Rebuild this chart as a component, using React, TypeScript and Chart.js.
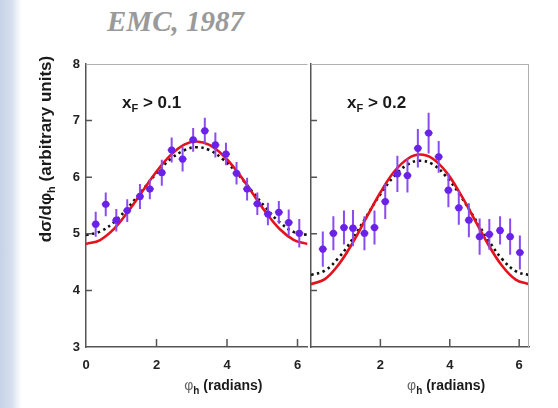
import React, { useEffect, useRef } from "react";
import { Chart, registerables } from "chart.js";
Chart.register(...registerables);

const PHI_MAX = 6.2832;
const xTickValues = [0, 2, 4, 6];
const yTickValues = [3, 4, 5, 6, 7, 8];
const yInnerTicks = [4, 5, 6, 7];

// xF > 0.1 data
const phiLow = [0.275, 0.56, 0.86, 1.17, 1.53, 1.81, 2.15, 2.43, 2.74, 3.04, 3.37, 3.67, 3.97, 4.27, 4.57, 4.86, 5.16, 5.47, 5.75, 6.05];
const sigmaLow = [5.17, 5.52, 5.24, 5.41, 5.66, 5.79, 6.08, 6.48, 6.32, 6.66, 6.82, 6.57, 6.41, 6.07, 5.79, 5.53, 5.35, 5.38, 5.2, 5.01];
const errLow = [0.22, 0.21, 0.2, 0.2, 0.22, 0.18, 0.23, 0.22, 0.22, 0.21, 0.23, 0.22, 0.2, 0.2, 0.2, 0.2, 0.2, 0.2, 0.23, 0.25];

// xF > 0.2 data
const phiHigh = [0.34, 0.645, 0.95, 1.21, 1.54, 1.83, 2.14, 2.49, 2.78, 3.08, 3.39, 3.68, 3.96, 4.26, 4.55, 4.86, 5.14, 5.45, 5.74, 6.02];
const sigmaHigh = [4.73, 5.01, 5.11, 5.1, 5.01, 5.11, 5.57, 6.06, 6.03, 6.51, 6.78, 6.36, 5.77, 5.46, 5.24, 4.95, 4.99, 5.06, 4.95, 4.67];
const errHigh = [0.31, 0.3, 0.3, 0.32, 0.3, 0.3, 0.31, 0.32, 0.3, 0.34, 0.36, 0.28, 0.3, 0.3, 0.3, 0.32, 0.27, 0.25, 0.32, 0.3];

// model curves
const curvePhi = [0, 0.4, 0.8, 1.2, 1.6, 2.0, 2.4, 2.8, 3.14, 3.5, 3.9, 4.3, 4.7, 5.1, 5.5, 5.9, 6.2832];
const redLow = [4.82, 4.89, 5.09, 5.4, 5.75, 6.1, 6.39, 6.58, 6.63, 6.57, 6.38, 6.09, 5.74, 5.38, 5.08, 4.89, 4.82];
const dotLow = [4.98, 5.04, 5.21, 5.47, 5.77, 6.07, 6.32, 6.48, 6.53, 6.48, 6.31, 6.06, 5.76, 5.46, 5.2, 5.03, 4.98];
const redHigh = [4.11, 4.2, 4.46, 4.84, 5.29, 5.73, 6.1, 6.33, 6.4, 6.33, 6.09, 5.71, 5.27, 4.82, 4.44, 4.19, 4.11];
const dotHigh = [4.27, 4.35, 4.58, 4.91, 5.31, 5.7, 6.02, 6.23, 6.29, 6.23, 6.01, 5.68, 5.29, 4.9, 4.56, 4.34, 4.27];

const FONT = "'Liberation Sans', Arial, sans-serif";
const AXIS = "#555555";

function drawSubText(ctx: CanvasRenderingContext2D, parts: { t: string; sub?: boolean; font: string; color?: string }[], x: number, y: number, align: "left" | "center") {
  let total = 0;
  for (const p of parts) { ctx.font = p.font; total += ctx.measureText(p.t).width; }
  let cx = align === "center" ? x - total / 2 : x;
  ctx.textBaseline = "alphabetic";
  ctx.textAlign = "left";
  for (const p of parts) {
    ctx.font = p.font;
    ctx.fillStyle = p.color || "#1a1a1a";
    ctx.fillText(p.t, cx, p.sub ? y + 4 : y);
    cx += ctx.measureText(p.t).width;
  }
}

function makeConfig(phi: number[], val: number[], err: number[], red: number[], dot: number[], label: string, left: boolean): any {
  const toPts = (xs: number[], ys: number[]) => xs.map((x, i) => ({ x, y: ys[i] }));
  const decor = {
    id: "decor",
    beforeDatasetDraw(chart: any, args: any) {
      const ds = chart.data.datasets[args.index];
      if (!ds.errors) return;
      const { ctx, scales } = chart;
      ctx.save();
      ctx.strokeStyle = "#8a4cf0";
      ctx.lineWidth = 2;
      ds.data.forEach((p: any, i: number) => {
        const px = scales.x.getPixelForValue(p.x);
        const py = scales.y.getPixelForValue(p.y);
        ctx.beginPath();
        ctx.moveTo(px, scales.y.getPixelForValue(p.y - ds.errors[i]));
        ctx.lineTo(px, scales.y.getPixelForValue(p.y + ds.errors[i]));
        ctx.moveTo(px - 4, py);
        ctx.lineTo(px + 4, py);
        ctx.stroke();
      });
      ctx.restore();
    },
    afterDraw(chart: any) {
      const { ctx, chartArea: a, scales } = chart;
      ctx.save();
      ctx.strokeStyle = "#b0b0b0";
      ctx.lineWidth = 1;
      ctx.beginPath();
      ctx.moveTo(a.left, a.top + 0.5);
      ctx.lineTo(a.right, a.top + 0.5);
      if (!left) {
        ctx.moveTo(a.right - 0.5, a.top);
        ctx.lineTo(a.right - 0.5, a.bottom);
      }
      ctx.stroke();
      ctx.strokeStyle = AXIS;
      ctx.lineWidth = 1.5;
      ctx.beginPath();
      for (const v of [2, 4, 6]) {
        const px = scales.x.getPixelForValue(v);
        ctx.moveTo(px, a.bottom);
        ctx.lineTo(px, a.bottom - 8);
      }
      for (const v of yInnerTicks) {
        const py = scales.y.getPixelForValue(v);
        ctx.moveTo(a.left, py);
        ctx.lineTo(a.left + 6, py);
      }
      ctx.stroke();
      // annotation
      drawSubText(ctx, [
        { t: "x", font: `bold 17px ${FONT}` },
        { t: "F", sub: true, font: `bold 11px ${FONT}` },
        { t: " > " + label, font: `bold 17px ${FONT}` },
      ], a.left + 36, a.top + 44, "left");
      // x title
      drawSubText(ctx, [
        { t: "φ", font: `14px ${FONT}`, color: "#666" },
        { t: "h", sub: true, font: `bold 10px ${FONT}` },
        { t: " (radians)", font: `bold 14px ${FONT}` },
      ], a.left + 0.62 * (a.right - a.left), 390, "center");
      if (left) {
        ctx.translate(51, 149);
        ctx.rotate(-Math.PI / 2);
        drawSubText(ctx, [
          { t: "dσ/dφ", font: `bold 17px ${FONT}` },
          { t: "h", sub: true, font: `bold 11px ${FONT}` },
          { t: " (arbitrary units)", font: `bold 17px ${FONT}` },
        ], 0, 0, "center");
      }
      ctx.restore();
    },
  };
  return {
    type: "scatter",
    data: {
      datasets: [
        {
          data: toPts(phi, val),
          errors: err,
          backgroundColor: "#6a22e8",
          borderWidth: 0,
          pointRadius: 3.6,
          order: 0,
        },
        {
          data: toPts(curvePhi, red),
          showLine: true,
          borderColor: "#e3121c",
          borderWidth: 2.6,
          pointRadius: 0,
          tension: 0.4,
          order: 1,
        },
        {
          data: toPts(curvePhi, dot),
          showLine: true,
          borderColor: "#111111",
          borderWidth: 2.6,
          borderDash: [2.5, 3.5],
          pointRadius: 0,
          tension: 0.4,
          order: 2,
        },
      ],
    },
    options: {
      responsive: false,
      animation: false,
      events: [],
      layout: { padding: { top: 64, right: left ? 12.5 : 29, bottom: 0, left: 0 } },
      plugins: { legend: { display: false }, tooltip: { enabled: false }, title: { display: false } },
      scales: {
        x: {
          type: "linear",
          min: 0,
          max: PHI_MAX,
          afterBuildTicks: (s: any) => { s.ticks = xTickValues.map((v) => ({ value: v })); },
          afterFit: (s: any) => { s.height = 61; },
          grid: { display: false, drawTicks: false },
          border: { display: true, color: AXIS, width: 1.5 },
          ticks: {
            padding: 11,
            color: "#222",
            font: { family: FONT, size: 13, weight: "bold" },
            maxRotation: 0,
            callback: (v: any) => (!left && v === 0 ? "" : String(v)),
          },
        },
        y: {
          type: "linear",
          min: 3,
          max: 8,
          afterBuildTicks: (s: any) => { s.ticks = yTickValues.map((v) => ({ value: v })); },
          afterFit: (s: any) => { s.width = left ? 86 : 7.5; },
          grid: { display: false, drawTicks: false },
          border: { display: true, color: AXIS, width: 1.5 },
          ticks: {
            display: left,
            padding: 6,
            color: "#222",
            font: { family: FONT, size: 13, weight: "bold" },
          },
        },
      },
    },
    plugins: [decor],
  };
}

export default function App() {
  const leftRef = useRef<HTMLCanvasElement>(null);
  const rightRef = useRef<HTMLCanvasElement>(null);
  useEffect(() => {
    const c1 = new Chart(leftRef.current as HTMLCanvasElement, makeConfig(phiLow, sigmaLow, errLow, redLow, dotLow, "0.1", true));
    const c2 = new Chart(rightRef.current as HTMLCanvasElement, makeConfig(phiHigh, sigmaHigh, errHigh, redHigh, dotHigh, "0.2", false));
    return () => { c1.destroy(); c2.destroy(); };
  }, []);
  return (
    <div
      style={{
        position: "fixed",
        left: 0,
        top: 0,
        width: 558,
        height: 408,
        overflow: "hidden",
        background: "linear-gradient(to right, #c6d2e6 0px, #d6dfee 12px, #eef2f8 17px, #ffffff 22px)",
      }}
    >
      <div
        style={{
          position: "absolute",
          left: 107,
          top: 7,
          fontFamily: "'Liberation Serif', 'Times New Roman', serif",
          fontStyle: "italic",
          fontWeight: "bold",
          fontSize: 29,
          lineHeight: 1,
          color: "#9a9a9a",
          whiteSpace: "nowrap",
        }}
      >
        EMC, 1987
      </div>
      <canvas ref={leftRef} width={320} height={408} style={{ position: "absolute", left: 0, top: 0, width: 320, height: 408 }} />
      <canvas ref={rightRef} width={258} height={408} style={{ position: "absolute", left: 300, top: 0, width: 258, height: 408 }} />
    </div>
  );
}
